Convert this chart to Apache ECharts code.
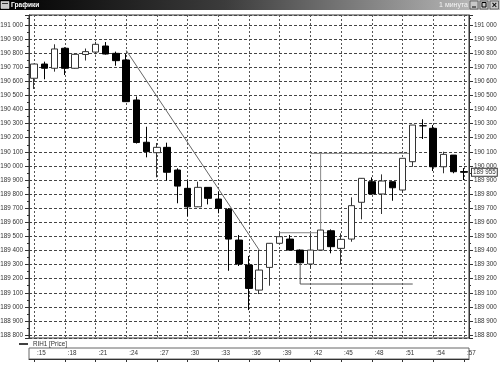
<!DOCTYPE html>
<html><head><meta charset="utf-8">
<script src="https://cdn.jsdelivr.net/npm/echarts@6/dist/echarts.min.js"></script>
<style>html,body{margin:0;padding:0;background:#fff}#c{width:500px;height:365px}</style>
</head><body><div id="c"></div>
<script>
// ---- data ----
const minutes = [':15',':16',':17',':18',':19',':20',':21',':22',':23',':24',':25',':26',':27',':28',':29',':30',':31',':32',':33',':34',':35',':36',':37',':38',':39',':40',':41',':42',':43',':44',':45',':46',':47',':48',':49',':50',':51',':52',':53',':54',':55',':56',':57'];
const openP  = [190622,190723,190693,190835,190693,190791,190808,190851,190799,190752,190468,190168,190094,190132,189971,189841,189710,189848,189765,189692,189474,189297,189119,189280,189451,189481,189403,189304,189403,189540,189415,189481,189742,189888,189801,189888,189829,190030,190285,190267,189994,190077,189960];
const closeP = [190723,190693,190830,190693,190792,190811,190863,190794,190747,190456,190166,190101,190132,189955,189857,189710,189848,189770,189699,189481,189304,189131,189261,189451,189498,189403,189313,189403,189545,189427,189479,189718,189912,189801,189893,189845,190054,190290,190285,189994,190082,189959,189955];
const lowP   = [190546,190615,190669,190645,190690,190748,190792,190790,190711,190454,190159,190061,189919,189895,189735,189644,189708,189727,189664,189256,189290,188977,189091,189150,189450,189403,189311,189273,189403,189380,189297,189462,189621,189801,189659,189753,189810,189994,190191,189964,189948,189948,189900];
const highP  = [190725,190740,190863,190842,190795,190833,190881,190879,190811,190794,190493,190278,190163,190165,189983,189895,189888,189850,189817,189701,189510,189361,189403,189452,189526,189510,189408,189522,189545,189550,189522,189777,189914,189919,189940,189888,190054,190290,190331,190290,190101,190077,189985];
const trendLine   = [[':24',190820],[':37',189403]];
const supportLow  = [[':41',189311],[':41',189162],[':52',189162]];
const levelLow    = [[':39',189526],[':44',189526]];
const levelRise   = [[':43',189526],[':43',190089]];
const levelHigh   = [[':42',190089],[':52',190089]];
const yMin = 188779, yMax = 191071;
const seriesName = 'RIH1 [Price]';
const windowTitle = 'Графики', periodText = '1 минута';
const lastPrice = closeP[closeP.length-1];

// ---- chart ----
const FONT = "'Liberation Sans',Arial,sans-serif";
const FS = 6.3;
const fmt = v => String(Math.round(v)).replace(/(\d{3})$/, ' $1');
const candles = openP.map((o,i)=>[o, closeP[i], lowP[i], highP[i]]);
const chart = echarts.init(document.getElementById('c'), null, {renderer:'canvas'});

function lineSeries(data, color){
  return {type:'line', data, xAxisIndex:0, yAxisIndex:0, symbol:'none', silent:true, z:1,
    lineStyle:{color, width:1}, animation:false};
}
const yAxisBase = {
  type:'value', min:yMin, max:yMax, gridIndex:0, splitNumber:22, minInterval:100, maxInterval:100,
  axisLine:{show:true, lineStyle:{color:'#333', width:1}},
  axisTick:{show:true, length:4, lineStyle:{color:'#333'}},
  minorTick:{show:true, splitNumber:2, length:2, lineStyle:{color:'#333'}},
  axisLabel:{showMinLabel:false, showMaxLabel:false, fontSize:FS, color:'#333', fontFamily:FONT, margin:6, formatter:fmt}
};
chart.setOption({
  animation:false,
  backgroundColor:'#fff',
  grid:[
    {left:29, right:31, top:15, bottom:27, show:true, borderColor:'#333', borderWidth:1, containLabel:false, outerBoundsMode:'none'},
    {left:29, right:31, top:348, height:11, show:true, borderColor:'#666', borderWidth:1, containLabel:false, outerBoundsMode:'none'}
  ],
  legend:{left:14, top:340, data:[{name:seriesName, icon:'rect'}], itemWidth:9, itemHeight:1.5, itemGap:6, padding:[1,5,1,5],
    itemStyle:{color:'#000', borderWidth:0}, textStyle:{fontSize:FS, color:'#333', fontFamily:FONT}},
  xAxis:[
    {type:'category', data:minutes, gridIndex:0, boundaryGap:true,
      axisLine:{show:false}, axisTick:{show:false}, axisLabel:{show:false},
      splitLine:{show:true, interval:2, alignWithLabel:true, lineStyle:{color:'#555', type:[2,2], width:1}}},
    {type:'category', data:minutes, gridIndex:1, boundaryGap:true, position:'top',
      axisLine:{show:true, lineStyle:{color:'#333'}},
      axisTick:{show:true, inside:true, interval:2, alignWithLabel:true, length:3, lineStyle:{color:'#333'}},
      axisLabel:{inside:true, interval:2, align:'left', margin:2.5, padding:[0,0,0,3], fontSize:FS, color:'#333', fontFamily:FONT},
      splitLine:{show:false}}
  ],
  yAxis:[
    Object.assign({}, yAxisBase, {position:'left',
      splitLine:{show:true, lineStyle:{color:'#444', type:[3,2], width:1}}}),
    Object.assign({}, yAxisBase, {position:'right', splitLine:{show:false}, axisLabel:Object.assign({}, yAxisBase.axisLabel, {margin:5})}),
    {type:'value', gridIndex:1, show:false, min:0, max:1}
  ],
  series:[
    lineSeries(trendLine, '#666'),
    lineSeries(supportLow, '#555'),
    lineSeries(levelLow, '#888'),
    lineSeries(levelRise, '#888'),
    lineSeries(levelHigh, '#888'),
    {type:'candlestick', name:seriesName, data:candles, xAxisIndex:0, yAxisIndex:0, barWidth:7, z:3,
      itemStyle:{color:'#fff', color0:'#000', borderColor:'#333', borderColor0:'#000', borderColorDoji:'#000', borderWidth:1}}
  ]
});

// title bar and current price tag
const py = chart.convertToPixel({yAxisIndex:1}, lastPrice);
chart.setOption({graphic:[
  {type:'rect', shape:{x:0,y:0,width:500,height:10}, silent:true,
    style:{fill:new echarts.graphic.LinearGradient(0,0,1,0,[{offset:0,color:'#000'},{offset:0.45,color:'#3c3c3c'},{offset:1,color:'#c4c4c4'}])}},
  {type:'rect', shape:{x:1,y:1.5,width:8,height:7}, style:{fill:'#c8c8c8', stroke:'#eee', lineWidth:0.5}},
  {type:'rect', shape:{x:2,y:3,width:6,height:1}, style:{fill:'#333'}},
  {type:'text', x:11, y:5.5, style:{text:windowTitle, fill:'#fff', font:"bold 6.6px 'Liberation Sans',sans-serif", verticalAlign:'middle'}},
  {type:'text', x:468, y:5.5, style:{text:periodText, fill:'#f4f4f4', font:"7px 'Liberation Sans',sans-serif", align:'right', verticalAlign:'middle'}},
  {type:'rect', shape:{x:470,y:1,width:8,height:8}, style:{fill:'#c8c8c8', stroke:'#333', lineWidth:0.6}},
  {type:'rect', shape:{x:472,y:6.5,width:4,height:1}, style:{fill:'#000'}},
  {type:'rect', shape:{x:480,y:1,width:8,height:8}, style:{fill:'#c8c8c8', stroke:'#333', lineWidth:0.6}},
  {type:'rect', shape:{x:482,y:2.5,width:4,height:4.5}, style:{fill:'none', stroke:'#000', lineWidth:1}},
  {type:'rect', shape:{x:490,y:1,width:8.5,height:8}, style:{fill:'#c8c8c8', stroke:'#333', lineWidth:0.6}},
  {type:'text', x:494.3, y:5.3, style:{text:'×', fill:'#000', font:"bold 9px 'Liberation Sans',sans-serif", align:'center', verticalAlign:'middle'}},
  {type:'text', x:472, y:py, z:10, style:{text:fmt(lastPrice), fill:'#333', font:FS+"px "+FONT, verticalAlign:'middle',
    backgroundColor:'#fff', borderColor:'#333', borderWidth:1, padding:[1,1,0,1]}}
]});
</script></body></html>
